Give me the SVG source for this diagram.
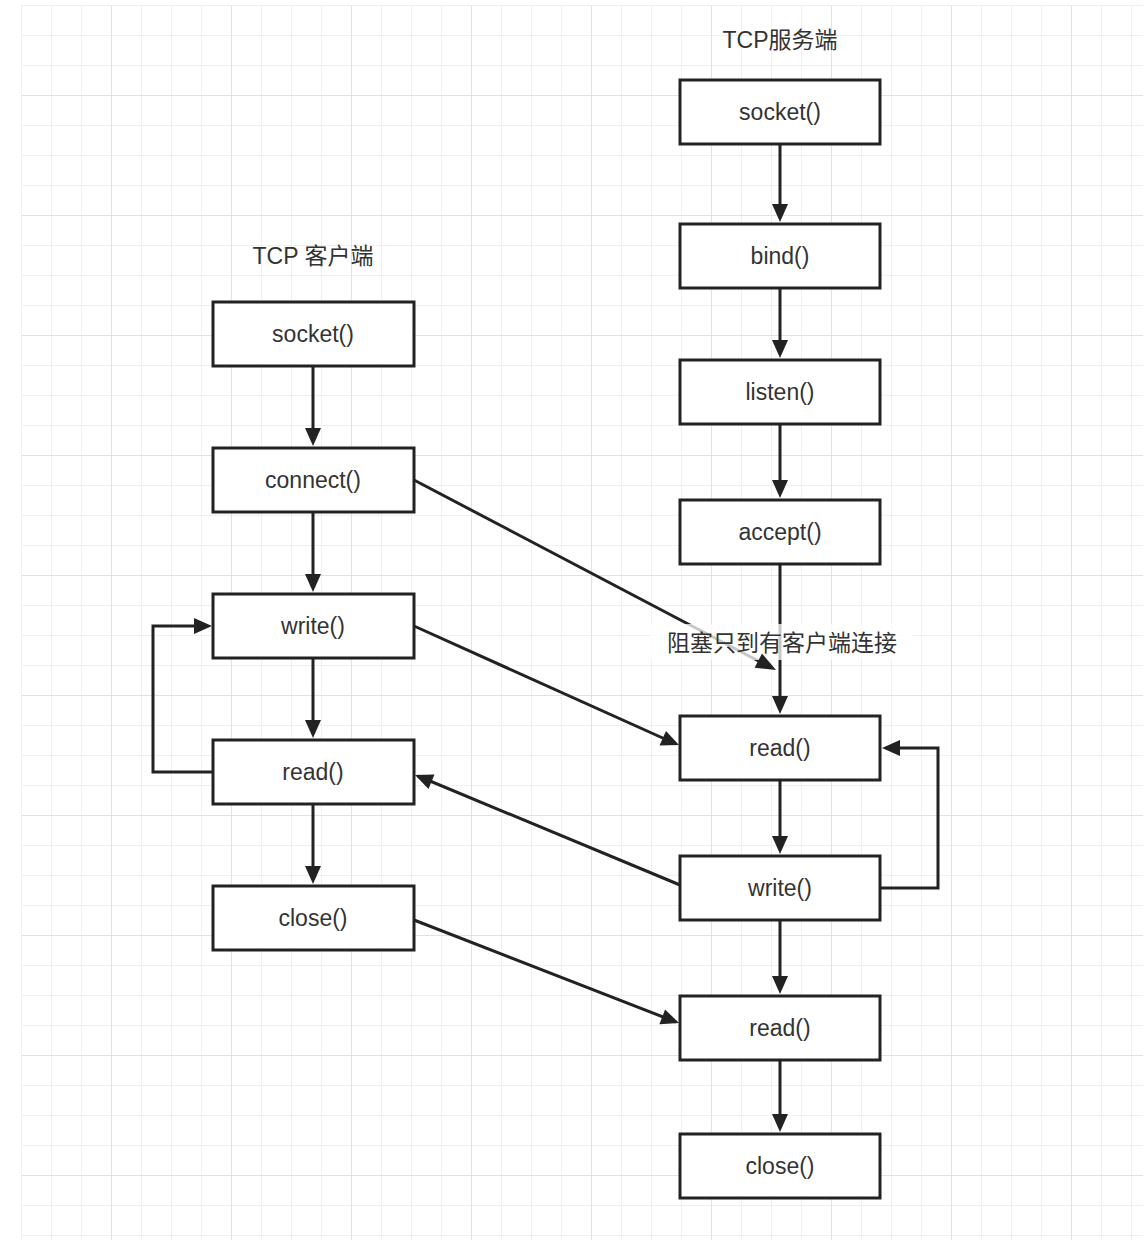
<svg xmlns="http://www.w3.org/2000/svg" width="1144" height="1248" viewBox="0 0 1144 1248">
<defs>
<pattern id="g" x="21" y="5" width="30" height="30" patternUnits="userSpaceOnUse"><path d="M0 0V30M0 0H30" fill="none" stroke="#ececec" stroke-width="1.5"/></pattern>
<pattern id="G" x="111" y="95" width="120" height="120" patternUnits="userSpaceOnUse"><path d="M0 0V120M0 0H120" fill="none" stroke="#dedede" stroke-width="1.5"/></pattern>
</defs>
<style>
.b{fill:#fff;stroke:#222;stroke-width:3}
.t{font-family:"Liberation Sans",Arial,sans-serif;font-size:23px;fill:#333;text-anchor:middle}
.c{fill:none;stroke:#222;stroke-width:3}
</style>
<rect width="1144" height="1248" fill="#fff"/>
<rect x="21" y="5" width="1122" height="1235" fill="url(#g)"/>
<rect x="21" y="5" width="1122" height="1235" fill="url(#G)"/>
<text class="t" x="780" y="48" style="font-family:'Liberation Sans','Noto Sans CJK SC',sans-serif">TCP服务端</text>
<text class="t" x="313" y="264" style="font-family:'Liberation Sans','Noto Sans CJK SC',sans-serif">TCP 客户端</text>
<g id="connectors">
<path class="c" d="M313 366V442"/>
<path class="c" d="M313 512V588"/>
<path class="c" d="M313 658V734"/>
<path class="c" d="M313 804V880"/>
<path class="c" d="M213 772H153V626H207"/>
<path class="c" d="M780 144V218"/>
<path class="c" d="M780 288V354"/>
<path class="c" d="M780 424V494"/>
<path class="c" d="M780 564V710"/>
<path class="c" d="M780 780V850"/>
<path class="c" d="M780 920V990"/>
<path class="c" d="M780 1060V1128"/>
<path class="c" d="M880 888H938V748H886"/>
<path class="c" d="M414 480L770 667"/>
<path class="c" d="M414 626L676 744"/>
<path class="c" d="M680 885L418 776"/>
<path class="c" d="M414 920L676 1022"/>
<rect x="650" y="624" width="262" height="36" fill="#fff" fill-opacity="0.75"/>
<g fill="#222">
<path d="M313 446l-8-18h16z"/><path d="M313 592l-8-18h16z"/><path d="M313 738l-8-18h16z"/><path d="M313 884l-8-18h16z"/>
<path d="M212 626l-18-8v16z"/>
<path d="M780 222l-8-18h16z"/><path d="M780 358l-8-18h16z"/><path d="M780 498l-8-18h16z"/><path d="M780 714l-8-18h16z"/><path d="M780 854l-8-18h16z"/><path d="M780 994l-8-18h16z"/><path d="M780 1132l-8-18h16z"/>
<path d="M882 748l18-8v16z"/>
<path d="M776 670L754.6 667.8L762 653.6z"/>
<path d="M679 745l-19.5 0.5l6.5-14.5z"/>
<path d="M415 775l19.5-0.5l-6 14.6z"/>
<path d="M679 1023l-19.6 1.3l5.7-14.9z"/>
</g>
</g>
<text x="782" y="651" style="font-family:'Liberation Sans','Noto Sans CJK SC',sans-serif;font-size:23px;fill:#333;text-anchor:middle">阻塞只到有客户端连接</text>
<g id="c_socket"><rect class="b" x="213" y="302" width="201" height="64"/><text class="t" x="313" y="342">socket()</text></g>
<g id="c_connect"><rect class="b" x="213" y="448" width="201" height="64"/><text class="t" x="313" y="488">connect()</text></g>
<g id="c_write"><rect class="b" x="213" y="594" width="201" height="64"/><text class="t" x="313" y="634">write()</text></g>
<g id="c_read"><rect class="b" x="213" y="740" width="201" height="64"/><text class="t" x="313" y="780">read()</text></g>
<g id="c_close"><rect class="b" x="213" y="886" width="201" height="64"/><text class="t" x="313" y="926">close()</text></g>
<g id="s_socket"><rect class="b" x="680" y="80" width="200" height="64"/><text class="t" x="780" y="120">socket()</text></g>
<g id="s_bind"><rect class="b" x="680" y="224" width="200" height="64"/><text class="t" x="780" y="264">bind()</text></g>
<g id="s_listen"><rect class="b" x="680" y="360" width="200" height="64"/><text class="t" x="780" y="400">listen()</text></g>
<g id="s_accept"><rect class="b" x="680" y="500" width="200" height="64"/><text class="t" x="780" y="540">accept()</text></g>
<g id="s_read"><rect class="b" x="680" y="716" width="200" height="64"/><text class="t" x="780" y="756">read()</text></g>
<g id="s_write"><rect class="b" x="680" y="856" width="200" height="64"/><text class="t" x="780" y="896">write()</text></g>
<g id="s_read2"><rect class="b" x="680" y="996" width="200" height="64"/><text class="t" x="780" y="1036">read()</text></g>
<g id="s_close"><rect class="b" x="680" y="1134" width="200" height="64"/><text class="t" x="780" y="1174">close()</text></g>
</svg>
